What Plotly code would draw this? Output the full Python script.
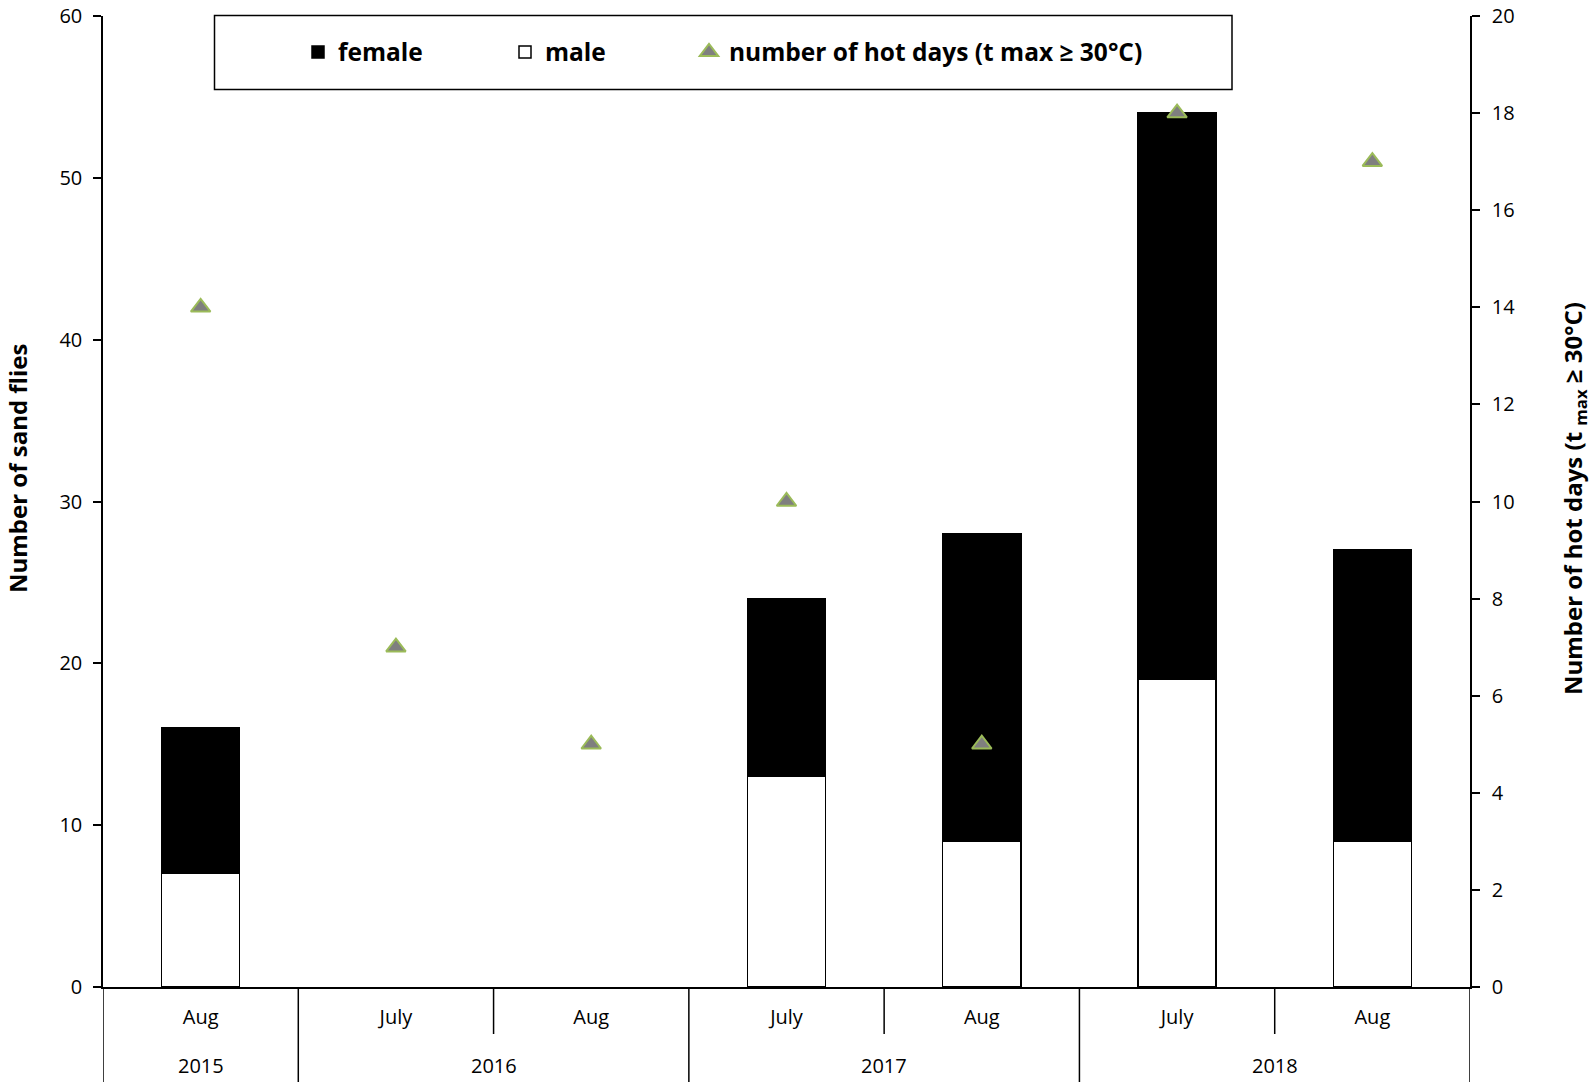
import plotly.graph_objects as go

# ---- data ----
categories = ["Aug 2015", "July 2016", "Aug 2016", "July 2017", "Aug 2017", "July 2018", "Aug 2018"]
months = ["Aug", "July", "Aug", "July", "Aug", "July", "Aug"]
years = ["2015", "2016", "2017", "2018"]
year_centers = [0, 1.5, 3.5, 5.5]
male = [7, 0, 0, 13, 9, 19, 9]
female = [9, 0, 0, 11, 19, 35, 18]
hot_days = [14, 7, 5, 10, 5, 18, 17]

W, H = 1594, 1082
ML, MT = 103, 16
PW = 1470 - 103
PH = 987 - 16
MR = W - ML - PW
MB = H - MT - PH

def px_x(px):
    return (px - ML) / PW

def px_y(py):
    return 1 - (py - MT) / PH

FONT = "Open Sans"

# no outline on empty (zero) bars
line_w = [1.5 if (m + f) > 0 else 0 for m, f in zip(male, female)]

fig = go.Figure()

fig.add_trace(go.Bar(
    x=categories, y=male, name="male", legend="legend3",
    marker=dict(color="white", line=dict(color="black", width=line_w)),
    width=0.4,
))
fig.add_trace(go.Bar(
    x=categories, y=female, name="female", legend="legend2",
    marker=dict(color="black", line=dict(color="black", width=line_w)),
    width=0.4,
))
fig.add_trace(go.Scatter(
    x=categories, y=hot_days, name="number of hot days (t max ≥ 30°C)",
    legend="legend4", mode="markers", yaxis="y2",
    marker=dict(symbol="triangle-up", size=17, color="#7F7F7F",
                line=dict(color="#9BBB59", width=2)),
))

shapes = []
# legend box
shapes.append(dict(type="rect", xref="paper", yref="paper",
                   x0=px_x(214.5), x1=px_x(1232), y0=px_y(89.5), y1=px_y(15.5),
                   line=dict(color="black", width=1.5), fillcolor="rgba(0,0,0,0)"))
# category dividers below the axis
for xb in [-0.5, 0.5, 2.5, 4.5, 6.5]:
    shapes.append(dict(type="line", xref="x", yref="paper", x0=xb, x1=xb,
                       y0=0, y1=-(MB + 2) / PH,
                       line=dict(color="black", width=1.5)))
for xb in [1.5, 3.5, 5.5]:
    shapes.append(dict(type="line", xref="x", yref="paper", x0=xb, x1=xb,
                       y0=0, y1=-47 / PH,
                       line=dict(color="black", width=1.5)))

annotations = []
for yr, xc in zip(years, year_centers):
    annotations.append(dict(text=yr, x=xc, xref="x", y=0, yref="paper",
                            yshift=-78.4, yanchor="middle", xanchor="center",
                            showarrow=False, font=dict(family=FONT, size=20, color="black")))
annotations.append(dict(text="Number of sand flies", x=px_x(17), y=px_y(469),
                        xref="paper", yref="paper", textangle=-90, showarrow=False,
                        xanchor="center", yanchor="middle",
                        font=dict(family=FONT, size=24, color="black", weight="bold")))
annotations.append(dict(text="Number of hot days (t <sub>max</sub> ≥ 30°C)", x=px_x(1574), y=px_y(499),
                        xref="paper", yref="paper", textangle=-90, showarrow=False,
                        xanchor="center", yanchor="middle",
                        font=dict(family=FONT, size=24, color="black", weight="bold")))

leg_font = dict(family=FONT, size=24.5, color="black", weight="bold")
leg_common = dict(orientation="h", xanchor="left", yanchor="middle", y=px_y(52),
                  bgcolor="rgba(0,0,0,0)", borderwidth=0, font=leg_font)

fig.update_layout(
    template="none",
    width=W, height=H,
    margin=dict(l=ML, r=MR, t=MT, b=MB, autoexpand=False),
    paper_bgcolor="white", plot_bgcolor="white",
    barmode="stack", bargap=0.6,
    font=dict(family=FONT, size=20, color="black"),
    showlegend=True,
    xaxis=dict(type="category", categoryorder="array", categoryarray=categories,
               tickmode="array", tickvals=categories, ticktext=months,
               range=[-0.5, 6.5], showline=True, linecolor="black", linewidth=1.5,
               ticks="", showgrid=False, zeroline=False, ticklabelstandoff=11,
               automargin=False,
               tickfont=dict(family=FONT, size=20, color="black")),
    yaxis=dict(range=[0, 60], dtick=10, showline=True, linecolor="black", linewidth=1.5,
               ticks="outside", ticklen=8, tickwidth=1.5, tickcolor="black",
               showgrid=False, zeroline=False, ticklabelstandoff=7, automargin=False,
               ticklabeloverflow="allow",
               tickfont=dict(family=FONT, size=20, color="black")),
    yaxis2=dict(range=[0, 20], dtick=2, overlaying="y", side="right",
                showline=True, linecolor="black", linewidth=1.5,
                ticks="outside", ticklen=8, tickwidth=1.5, tickcolor="black",
                showgrid=False, zeroline=False, ticklabelstandoff=8, automargin=False,
                ticklabeloverflow="allow",
                tickfont=dict(family=FONT, size=20, color="black")),
    legend2=dict(x=px_x(298), **leg_common),
    legend3=dict(x=px_x(505), **leg_common),
    legend4=dict(x=px_x(689), **leg_common),
    shapes=shapes,
    annotations=annotations,
)

# remove the browser's default 8px body margin so the figure fills the window exactly
fig.write_html("out.html", config={"displayModeBar": False},
               post_script="document.body.style.margin='0px';")
